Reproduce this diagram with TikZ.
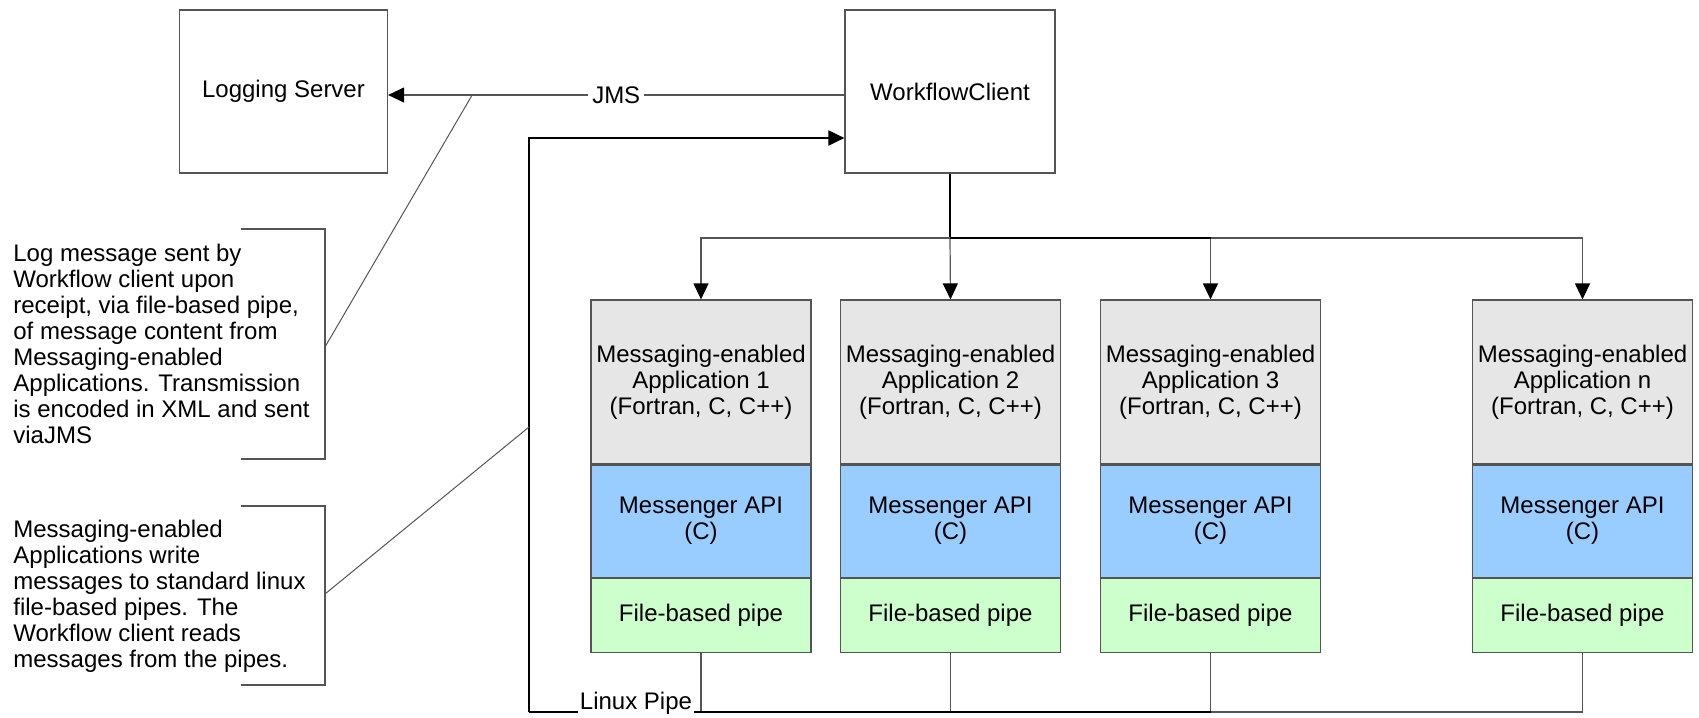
\documentclass[tikz,border=0pt]{standalone}
\usepackage{fontspec}
\setmainfont{Liberation Sans}
\usetikzlibrary{arrows.meta}

\definecolor{appgray}{HTML}{E6E6E6}
\definecolor{apiblue}{HTML}{99CCFF}
\definecolor{pipegreen}{HTML}{CCFFCC}
\definecolor{edgegray}{HTML}{555555}

\begin{document}
\begin{tikzpicture}[x=0.5pt,y=-0.5pt,
  font=\fontsize{12}{13}\selectfont,
  plainbox/.style={draw=edgegray, line width=0.6pt, fill=white, align=center,
    minimum width=104pt, minimum height=81.5pt, inner sep=2pt},
  layer/.style={draw=edgegray, line width=0.6pt, align=center,
    minimum width=110pt, inner sep=2pt},
  note/.style={anchor=west, align=left, inner sep=0pt},
  thinline/.style={draw=edgegray, line width=0.6pt},
  thickline/.style={draw=black, line width=1pt},
  tip/.style={-{Triangle[length=8pt,width=7.5pt,color=black,fill=black]}},
  lbl/.style={fill=white, inner sep=2pt}]

\useasboundingbox (0,0) rectangle (1699,718);

% top row
\node[plainbox] (ls) at (283.5,91.5) {Logging Server};
\node[plainbox, minimum width=105pt] (wc) at (950,91.5) {WorkflowClient};

% application stacks
\foreach \i/\x in {1/701, 2/950.5, 3/1210.5, n/1582.5} {
  \node[layer, fill=appgray, minimum height=82pt] (app\i) at (\x,382)
    {Messaging-enabled\\Application \i\\(Fortran, C, C++)};
  \node[layer, fill=apiblue, minimum height=56pt, anchor=north] (api\i) at (app\i.south)
    {Messenger API\\(C)};
  \node[layer, fill=pipegreen, minimum height=37pt, anchor=north] (pipe\i) at (api\i.south)
    {File-based pipe};
}

% JMS link from the workflow client to the logging server
\draw[thinline, tip] ([yshift=-1.75pt]wc.west) -- node[lbl] (jms) {JMS} ([yshift=-1.75pt]ls.east);
\coordinate (tap1) at (472,95.3);

% fan-out from the workflow client to the applications
\coordinate (fork) at (950,238);
\draw[thickline] (wc.south) -- (fork);
\draw[thinline, tip] (fork) -| (app1.north);
\draw[thinline, tip] (fork) -- (app2.north);
\draw[thinline, tip] (fork) -| (app3.north);
\draw[thinline, tip] (fork) -| (appn.north);
\draw[thickline] (fork) -- (fork -| app3.north);

% linux pipe bus back to the workflow client
\coordinate (busL) at (529,712);
\coordinate (busT) at (529,138);
\draw[thinline] (pipen.south) -- (pipen.south |- busL) -- (pipe3.south |- busL);
\draw[thinline] (pipe1.south) -- (pipe1.south |- busL);
\draw[thinline] (pipe2.south) -- (pipe2.south |- busL);
\draw[thinline] (pipe3.south) -- (pipe3.south |- busL);
\draw[thickline] (pipe3.south |- busL) -- (busL);
\draw[thickline, tip] (busL) -- (busT) -- (busT -| wc.west);
\node[lbl, inner sep=1pt, anchor=south] (lpipe) at (636,717) {Linux Pipe};
\coordinate (tap2) at (529,427);

% annotations with brackets
\node[note] (n1) at (13,344) {Log message sent by\\Workflow client upon\\receipt, via file-based pipe,\\of message content from\\Messaging-enabled\\Applications. Transmission\\is encoded in XML and sent\\viaJMS};
\draw[thinline] (241,229) -- (325,229) -- (325,459) -- (241,459);
\coordinate (b1) at (325,347);
\draw[thinline, line width=0.5pt] (b1) -- (tap1);

\node[note] (n2) at (13,596) {Messaging-enabled\\Applications write\\messages to standard linux\\file-based pipes. The\\Workflow client reads\\messages from the pipes.};
\draw[thinline] (241,506) -- (325,506) -- (325,685) -- (241,685);
\coordinate (b2) at (325,594);
\draw[thinline, line width=0.5pt] (b2) -- (tap2);
\end{tikzpicture}
\end{document}
